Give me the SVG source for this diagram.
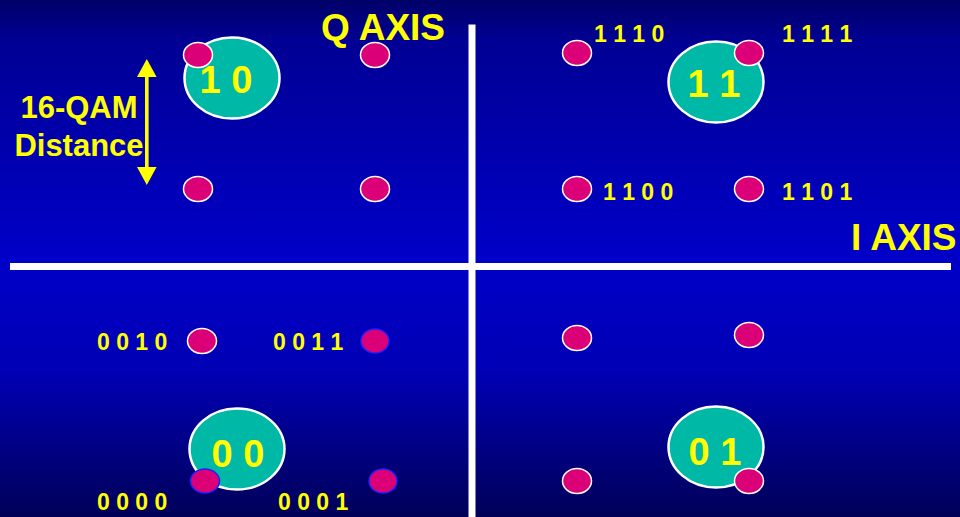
<svg xmlns="http://www.w3.org/2000/svg" width="960" height="517" viewBox="0 0 960 517">
<defs>
<linearGradient id="bg" x1="0" y1="0" x2="0" y2="1">
<stop offset="0" stop-color="#000068"/>
<stop offset="0.08" stop-color="#000094"/>
<stop offset="0.5" stop-color="#0000c8"/>
<stop offset="0.72" stop-color="#0000b4"/>
<stop offset="1" stop-color="#000058"/>
</linearGradient>
<style>
.big{fill:#00b8a6;stroke:#ffffff;stroke-width:2.5}
.dot{fill:#dc0078;stroke:#ffffff;stroke-width:1.5}
.dotb{fill:#dc0078;stroke:#2020ff;stroke-width:1.5}
.lbl{font-family:"Liberation Sans",Arial,sans-serif;font-weight:bold;fill:#ffff00}
.quad{font-size:38px;text-anchor:middle}
.bits{font-size:23px}
.axis{font-size:37px}
.dist{font-size:31px;text-anchor:middle}
.axisline{fill:#ffffff}
</style>
</defs>
<rect x="0" y="0" width="960" height="517" fill="url(#bg)"/>
<g id="connectors">
<rect class="axisline" x="468.5" y="24.5" width="7" height="493"/>
<rect class="axisline" x="10" y="263" width="941" height="7"/>
<g id="distance-arrow" fill="#ffff00">
<rect x="145" y="74" width="3.6" height="96"/>
<polygon points="146.8,59 137,77 156.6,77"/>
<polygon points="146.8,185 137,167 156.6,167"/>
</g>
</g>
<g id="q-axis-label"><text class="lbl axis" x="321" y="40">Q AXIS</text></g>
<g id="i-axis-label"><text class="lbl axis" x="851" y="250">I AXIS</text></g>
<g id="distance-label">
<text class="lbl dist" x="79" y="118">16-QAM</text>
<text class="lbl dist" x="79" y="156">Distance</text>
</g>
<g id="q10">
<ellipse class="big" cx="232" cy="78" rx="47.5" ry="40.5"/>
<text class="lbl quad" x="226" y="93">1 0</text>
<ellipse class="dot" cx="198" cy="55" rx="14.5" ry="12.5"/>
</g>
<g id="q11">
<ellipse class="big" cx="716" cy="82" rx="47.5" ry="40.5"/>
<text class="lbl quad" x="714" y="97">1 1</text>
<ellipse class="dot" cx="749" cy="53" rx="14.5" ry="12.5"/>
</g>
<g id="q00">
<ellipse class="big" cx="237" cy="449" rx="47.5" ry="40.5"/>
<text class="lbl quad" x="238" y="467">0 0</text>
<ellipse class="dotb" cx="205" cy="481" rx="14.5" ry="12"/>
</g>
<g id="q01">
<ellipse class="big" cx="716" cy="447" rx="47.5" ry="40.5"/>
<text class="lbl quad" x="715" y="465">0 1</text>
<ellipse class="dot" cx="749" cy="481" rx="14.5" ry="12.5"/>
</g>
<g id="p-top-left">
<ellipse class="dot" cx="375" cy="55" rx="14.5" ry="12.5"/>
<ellipse class="dot" cx="198" cy="189" rx="14.5" ry="12.5"/>
<ellipse class="dot" cx="375" cy="189" rx="14.5" ry="12.5"/>
</g>
<g id="p1110"><ellipse class="dot" cx="577" cy="53" rx="14.5" ry="12.5"/><text class="lbl bits" x="594" y="42">1 1 1 0</text></g>
<g id="p1111"><text class="lbl bits" x="782" y="42">1 1 1 1</text></g>
<g id="p1100"><ellipse class="dot" cx="577" cy="189" rx="14.5" ry="12.5"/><text class="lbl bits" x="603" y="200">1 1 0 0</text></g>
<g id="p1101"><ellipse class="dot" cx="749" cy="189" rx="14.5" ry="12.5"/><text class="lbl bits" x="782" y="200">1 1 0 1</text></g>
<g id="p0010"><ellipse class="dot" cx="202" cy="341" rx="14.5" ry="12.5"/><text class="lbl bits" x="97" y="350">0 0 1 0</text></g>
<g id="p0011"><ellipse class="dotb" cx="375" cy="341" rx="14" ry="12"/><text class="lbl bits" x="273" y="350">0 0 1 1</text></g>
<g id="p0000"><text class="lbl bits" x="97" y="510">0 0 0 0</text></g>
<g id="p0001"><ellipse class="dotb" cx="383" cy="481" rx="14" ry="12"/><text class="lbl bits" x="278" y="510">0 0 0 1</text></g>
<g id="p-bottom-right">
<ellipse class="dot" cx="577" cy="338" rx="14.5" ry="12.5"/>
<ellipse class="dot" cx="749" cy="335" rx="14.5" ry="12.5"/>
<ellipse class="dot" cx="577" cy="481" rx="14.5" ry="12.5"/>
</g>
</svg>
